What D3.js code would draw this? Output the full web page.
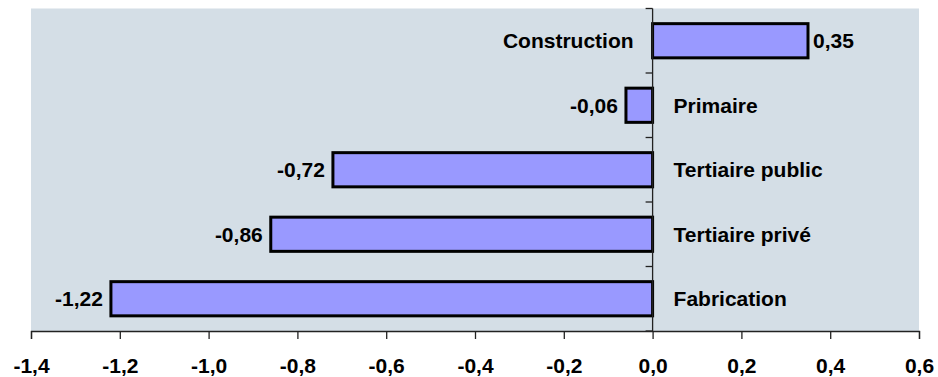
<html>
  <head>
    <meta charset="utf-8">
    <script src="https://d3js.org/d3.v7.min.js"></script>
    <style>
      body { margin: 0; background: #fff; }
      text { font-family: "Liberation Sans", Arial, sans-serif; font-weight: bold; fill: #000; }
    </style>
  </head>
  <body>
    <div id="vis"></div>
    <script>
      // data
      const sectors = ["Construction", "Primaire", "Tertiaire public", "Tertiaire privé", "Fabrication"];
      const values = [0.35, -0.06, -0.72, -0.86, -1.22];
      const xTicks = [-1.4, -1.2, -1.0, -0.8, -0.6, -0.4, -0.2, 0.0, 0.2, 0.4, 0.6];

      const width = 938, height = 377;
      const mLeft = 31, mRight = 919, mTop = 8.5, mBottom = 331;
      const fmt = (v, d) => v.toFixed(d).replace(".", ",");

      let svg = d3.select("#vis").append("svg")
        .attr("width", width)
        .attr("height", height);

      let x = d3.scaleLinear().domain([-1.4, 0.6]).range([mLeft, mRight]);
      let y = d3.scaleBand().domain(sectors).range([mTop, mBottom])
        .paddingInner(0.47).paddingOuter(0.235);

      // plot area
      svg.append("rect")
        .attr("x", mLeft).attr("y", mTop)
        .attr("width", mRight - mLeft).attr("height", mBottom - mTop)
        .attr("fill", "#d4dee6");

      // bottom axis
      let xAxis = svg.append("g")
        .attr("transform", `translate(0,${mBottom})`)
        .call(d3.axisBottom(x).tickValues(xTicks).tickSize(8).tickPadding(19)
          .tickFormat((d) => fmt(d, 1)));
      xAxis.select(".domain").attr("stroke", "#222").attr("stroke-width", 1.3);
      xAxis.selectAll(".tick line").attr("stroke", "#222").attr("stroke-width", 1.3);
      xAxis.selectAll("text").style("font-size", "21px").attr("font-family", null).attr("fill", "#000");

      // bars
      svg.selectAll(".bar").data(sectors).enter()
        .append("rect")
        .attr("class", "bar")
        .attr("x", (d, i) => x(Math.min(0, values[i])))
        .attr("y", (d) => y(d))
        .attr("width", (d, i) => Math.abs(x(values[i]) - x(0)))
        .attr("height", y.bandwidth())
        .attr("fill", "#9999ff")
        .attr("stroke", "#000")
        .attr("stroke-width", 3);

      // vertical zero axis with category ticks
      let yAxis = svg.append("g")
        .attr("transform", `translate(${x(0)},0)`);
      yAxis.append("line")
        .attr("y1", mTop).attr("y2", mBottom)
        .attr("stroke", "#222").attr("stroke-width", 1.3);
      let bounds = d3.range(sectors.length + 1).map((i) => mTop + i * y.step());
      yAxis.selectAll(".cat-tick").data(bounds).enter()
        .append("line")
        .attr("x1", -7).attr("x2", 0)
        .attr("y1", (d) => d).attr("y2", (d) => d)
        .attr("stroke", "#222").attr("stroke-width", 1.3);

      // category labels
      svg.selectAll(".cat").data(sectors).enter()
        .append("text")
        .attr("class", "cat")
        .attr("x", (d, i) => values[i] >= 0 ? x(0) - 19 : x(0) + 21)
        .attr("y", (d) => y(d) + y.bandwidth() / 2 + 7.5)
        .attr("text-anchor", (d, i) => values[i] >= 0 ? "end" : "start")
        .style("font-size", "21px")
        .text((d) => d);

      // value labels
      svg.selectAll(".val").data(sectors).enter()
        .append("text")
        .attr("class", "val")
        .attr("x", (d, i) => values[i] >= 0 ? x(values[i]) + 5 : x(values[i]) - 8)
        .attr("y", (d) => y(d) + y.bandwidth() / 2 + 7.5)
        .attr("text-anchor", (d, i) => values[i] >= 0 ? "start" : "end")
        .style("font-size", "21px")
        .text((d, i) => fmt(values[i], 2));
    </script>
  </body>
</html>
